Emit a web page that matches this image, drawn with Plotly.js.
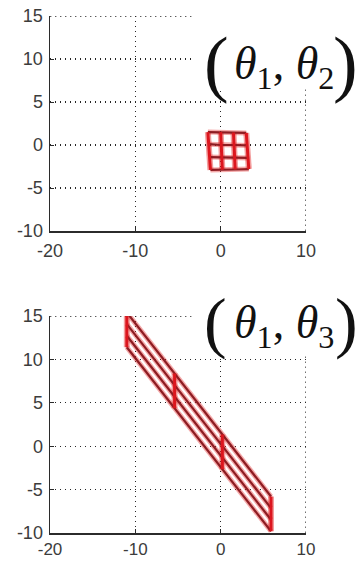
<!DOCTYPE html>
<html>
<head>
<meta charset="utf-8">
<script src="https://cdn.plot.ly/plotly-3.0.1.min.js"></script>
<style>
  html, body { margin: 0; padding: 0; background: #fff; }
  #chart { width: 360px; height: 561px; }
</style>
</head>
<body>
<div id="chart"></div>
<script>
// (θ1, θ2) mesh: one entry per column (left → right), four points per column (top → bottom)
const meshX12 = [
  [-1.5, -1.4, -1.3, -1.2],
  [0.0, 0.05, 0.1, 0.2],
  [1.5, 1.55, 1.6, 1.7],
  [3.0, 3.1, 3.2, 3.3]
];
const meshY12 = [
  [1.5, 0.1, -1.4, -2.9],
  [1.5, 0.0, -1.45, -2.9],
  [1.45, 0.0, -1.5, -2.85],
  [1.4, -0.05, -1.5, -2.8]
];

// (θ1, θ3) mesh, same layout
const meshX13 = [
  [-11.0, -11.0, -11.0, -11.0],
  [-5.4, -5.4, -5.4, -5.4],
  [0.2, 0.2, 0.2, 0.2],
  [5.9, 5.9, 5.9, 5.9]
];
const meshY13 = [
  [15.4, 14.07, 12.73, 11.4],
  [8.38, 7.05, 5.71, 4.38],
  [1.35, 0.02, -1.32, -2.65],
  [-5.8, -7.13, -8.47, -9.8]
];

const xTicks = [-20, -10, 0, 10];
const xTickText = ['-20', '-10', '0', '10'];
const yTicks = [-10, -5, 0, 5, 10, 15];
const yTickText = ['-10', '-5', '0', '5', '10', '15'];
const xRange = [-20, 10];
const yRange = [-10, 15];

// Split a mesh into column polylines and row polylines (null-separated)
function meshLines(mx, my) {
  const cols = { x: [], y: [] }, rows = { x: [], y: [] };
  mx.forEach((colX, i) => {
    colX.forEach((v, j) => { cols.x.push(v); cols.y.push(my[i][j]); });
    cols.x.push(null); cols.y.push(null);
  });
  for (let j = 0; j < mx[0].length; j++) {
    for (let i = 0; i < mx.length; i++) { rows.x.push(mx[i][j]); rows.y.push(my[i][j]); }
    rows.x.push(null); rows.y.push(null);
  }
  return { cols, rows };
}

function meshTraces(mx, my, xa, ya) {
  const { cols, rows } = meshLines(mx, my);
  const base = { type: 'scatter', mode: 'lines', xaxis: xa, yaxis: ya, hoverinfo: 'skip', connectgaps: false };
  return [
    Object.assign({}, base, { x: rows.x, y: rows.y, line: { color: 'rgba(228,40,40,0.40)', width: 5 } }),
    Object.assign({}, base, { x: cols.x, y: cols.y, line: { color: 'rgba(228,40,40,0.45)', width: 6 } }),
    Object.assign({}, base, { x: rows.x, y: rows.y, line: { color: '#8e1c22', width: 2.2 } }),
    Object.assign({}, base, { x: cols.x, y: cols.y, line: { color: '#dc161e', width: 3 } })
  ];
}

const data = [].concat(
  meshTraces(meshX12, meshY12, 'x', 'y'),
  meshTraces(meshX13, meshY13, 'x2', 'y2')
);

const W = 360, H = 561;
const px = v => v / W;          // pixel column → paper x
const py = v => 1 - v / H;      // pixel row → paper y

const dotted = '1.4px,3.6px';
const axisStyle = {
  showgrid: true, gridcolor: '#262626', gridwidth: 1.3, griddash: dotted,
  zeroline: false, showline: true, linecolor: '#2b2b2b', linewidth: 1.5,
  ticks: 'inside', ticklen: 4, tickcolor: '#2b2b2b',
  tickfont: { family: 'Liberation Sans, Arial, sans-serif', size: 18, color: '#3c3c3c' },
  fixedrange: true
};

const xDomain = [px(50), px(306)];

// dotted frame on the open (top / right) sides of each panel
function frame(xa, ya) {
  const l = { color: '#262626', width: 1.3, dash: dotted };
  return [
    { type: 'line', xref: xa, yref: ya, x0: xRange[1], x1: xRange[1], y0: yRange[0], y1: yRange[1], line: l, layer: 'below' },
    { type: 'line', xref: xa, yref: ya, x0: xRange[0], x1: xRange[1], y0: yRange[1], y1: yRange[1], line: l, layer: 'below' }
  ];
}

const layout = {
  width: W, height: H,
  margin: { l: 0, r: 0, t: 0, b: 0 },
  paper_bgcolor: '#ffffff', plot_bgcolor: '#ffffff',
  showlegend: false,
  xaxis: Object.assign({}, axisStyle, { domain: xDomain, range: xRange, tickvals: xTicks, ticktext: xTickText, anchor: 'y', ticklabelstandoff: 3 }),
  yaxis: Object.assign({}, axisStyle, { domain: [py(231), py(16)], range: yRange, tickvals: yTicks, ticktext: yTickText, anchor: 'x', ticklabelstandoff: 2 }),
  xaxis2: Object.assign({}, axisStyle, { domain: xDomain, range: xRange, tickvals: xTicks, ticktext: xTickText, anchor: 'y2', ticklabelstandoff: 0,
    tickfont: { family: 'Liberation Sans, Arial, sans-serif', size: 17, color: '#3c3c3c' } }),
  yaxis2: Object.assign({}, axisStyle, { domain: [py(533), py(316)], range: yRange, tickvals: yTicks, ticktext: yTickText, anchor: 'x2', ticklabelstandoff: 2 }),
  shapes: frame('x', 'y').concat(frame('x2', 'y2')).concat([
    { type: 'rect', xref: 'paper', yref: 'paper', x0: px(192), x1: 1, y0: py(87), y1: 1,
      fillcolor: '#ffffff', line: { width: 0 }, layer: 'above' },
    { type: 'rect', xref: 'paper', yref: 'paper', x0: px(192), x1: 1, y0: py(354), y1: py(280),
      fillcolor: '#ffffff', line: { width: 0 }, layer: 'above' }
  ]),
  annotations: []
};

const serif = 'Liberation Serif, Times New Roman, serif';
function pairLabel(sub2, yc, parenSize) {
  return [
    { text: '(', x: px(202), y: py(yc), xref: 'paper', yref: 'paper', showarrow: false,
      xanchor: 'left', yanchor: 'middle', font: { family: serif, size: parenSize, color: '#111' } },
    { text: '<i>θ</i><sub>1</sub>, <i>θ</i><sub>' + sub2 + '</sub>', x: px(284), y: py(yc + 4),
      xref: 'paper', yref: 'paper', showarrow: false,
      xanchor: 'center', yanchor: 'middle', font: { family: serif, size: 46, color: '#111' } },
    { text: ')', x: 1, y: py(yc), xref: 'paper', yref: 'paper', showarrow: false,
      xanchor: 'right', yanchor: 'middle', font: { family: serif, size: parenSize, color: '#111' } }
  ];
}
layout.annotations = pairLabel('2', 63, 74).concat(pairLabel('3', 322, 68));

Plotly.newPlot('chart', data, layout, { staticPlot: true, displayModeBar: false });
</script>
</body>
</html>
